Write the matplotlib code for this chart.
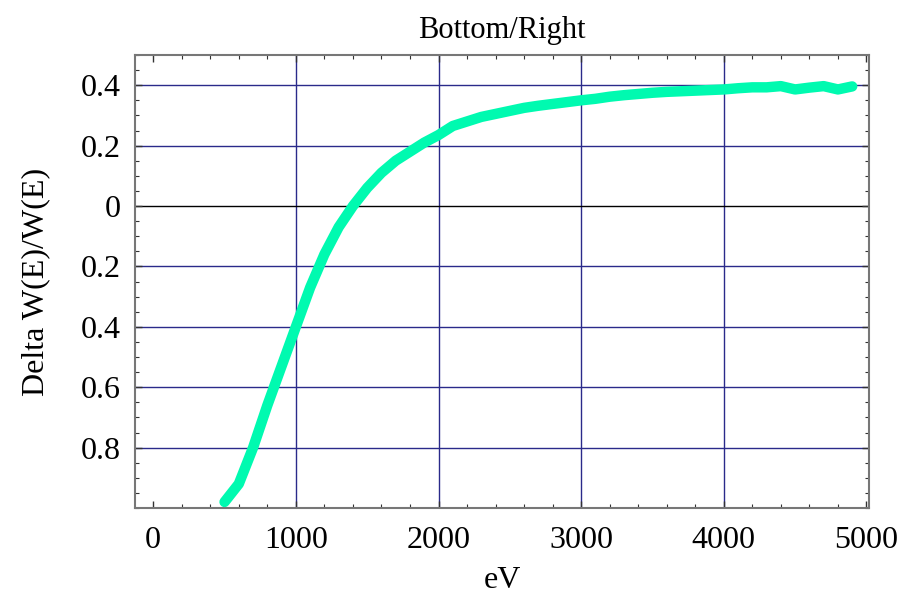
import matplotlib
matplotlib.use("Agg")
import matplotlib.pyplot as plt
from matplotlib.ticker import MultipleLocator, FixedLocator, FixedFormatter

plt.rcParams['font.family'] = 'Liberation Serif'

# energy (eV) and relative change
energy = [500, 600, 700, 800, 900, 1000, 1100, 1200, 1300, 1400, 1500, 1600,
          1700, 1800, 1900, 2000, 2100, 2200, 2300, 2400, 2500, 2600, 2700,
          2800, 2900, 3000, 3100, 3200, 3300, 3400, 3500, 3600, 3700, 3800,
          3900, 4000, 4100, 4200, 4300, 4400, 4500, 4600, 4700, 4800, 4900]
delta_w = [-0.98, -0.92, -0.80, -0.66, -0.53, -0.40, -0.27, -0.16, -0.07,
           0.00, 0.06, 0.11, 0.15, 0.18, 0.21, 0.235, 0.265, 0.28, 0.295,
           0.305, 0.315, 0.325, 0.332, 0.338, 0.344, 0.35, 0.355, 0.362,
           0.367, 0.371, 0.375, 0.378, 0.38, 0.382, 0.384, 0.386, 0.39,
           0.393, 0.393, 0.397, 0.386, 0.392, 0.397, 0.386, 0.396]

x_ticks = [0, 1000, 2000, 3000, 4000, 5000]
y_ticks = [0.4, 0.2, 0.0, -0.2, -0.4, -0.6, -0.8]
y_labels = ["0.4", "0.2", "0", "0.2", "0.4", "0.6", "0.8"]

fig = plt.figure(figsize=(9.04, 5.98), dpi=100)
ax = fig.add_axes([0.1493, 0.1505, 0.812, 0.7575])

grid_col = '#2a2a8a'
for gx in [1000, 2000, 3000, 4000]:
    ax.axvline(gx, color=grid_col, lw=1.0, zorder=1)
for gy in y_ticks:
    ax.axhline(gy, color='black' if gy == 0 else grid_col, lw=1.0, zorder=1)

ax.plot(energy, delta_w, color='#00fab0', lw=7.5, solid_capstyle='round',
        solid_joinstyle='round', zorder=3)

ax.set_xlim(-128, 5018)
ax.set_ylim(-1.0, 0.5)

ax.xaxis.set_major_locator(FixedLocator(x_ticks))
ax.xaxis.set_minor_locator(MultipleLocator(200))
ax.yaxis.set_major_locator(FixedLocator(y_ticks))
ax.yaxis.set_major_formatter(FixedFormatter(y_labels))
ax.yaxis.set_minor_locator(MultipleLocator(0.05))

ax.tick_params(which='both', direction='in', top=True, right=True,
               color='#333333', labelsize=23)
ax.tick_params(which='major', length=5, width=1)
ax.tick_params(which='minor', length=3, width=0.8)
ax.tick_params(axis='x', pad=13)
ax.tick_params(axis='y', pad=10)

for s in ax.spines.values():
    s.set_color('#777777')
    s.set_linewidth(1.5)

ax.set_title("Bottom/Right", fontsize=22, pad=12)
ax.set_xlabel("eV", fontsize=23, labelpad=8)
ax.set_ylabel("Delta W(E)/W(E)", fontsize=23, labelpad=22)

fig.savefig("out.png", dpi=100)
